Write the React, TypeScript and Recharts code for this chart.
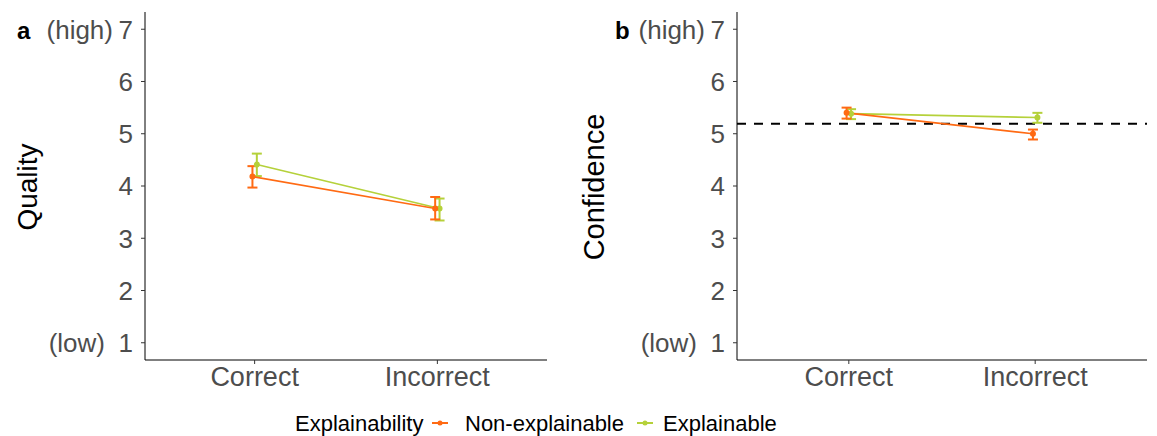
import React from "react";
import {
  LineChart,
  Line,
  XAxis,
  YAxis,
  ErrorBar,
  ReferenceLine,
} from "recharts";

const conditions = ["Correct", "Incorrect"];

// panel a: Quality
const qualityNonExpl = [4.18, 3.57];
const qualityNonExplLow = [3.97, 3.36];
const qualityNonExplHigh = [4.38, 3.79];
const qualityExpl = [4.41, 3.57];
const qualityExplLow = [4.19, 3.34];
const qualityExplHigh = [4.62, 3.76];

// panel b: Confidence
const confNonExpl = [5.4, 5.0];
const confNonExplLow = [5.29, 4.89];
const confNonExplHigh = [5.5, 5.08];
const confExpl = [5.385, 5.31];
const confExplLow = [5.28, 5.21];
const confExplHigh = [5.47, 5.4];
const confidenceBaseline = 5.19;

const yTicks = [1, 2, 3, 4, 5, 6, 7];
const yTickNotes: Record<number, string> = { 1: "(low)", 7: "(high)" };

const colors = {
  nonExpl: "#ff6a13",
  expl: "#b5d13a",
  text: "#4d4d4d",
};

const font = "'Liberation Sans', Arial, sans-serif";
const tickFont = 27;
const yTickFont = 26;
const dodge = 0.012;

const makeRows = (vals: number[], lows: number[], highs: number[], shift: number) =>
  conditions.map((c, i) => ({
    x: i + 1 + shift,
    y: vals[i],
    err: [vals[i] - lows[i], highs[i] - vals[i]],
  }));

const YTick = (props: any) => {
  const { x, y, payload } = props;
  const note = yTickNotes[payload.value];
  const gap = note === "(low)" ? 28 : 20;
  return (
    <g>
      <text x={x} y={y} dy="0.36em" textAnchor="end" fill={colors.text} fontSize={yTickFont} fontFamily={font}>
        {payload.value}
      </text>
      {note && (
        <text x={x - gap} y={y} dy="0.36em" textAnchor="end" fill={colors.text} fontSize={yTickFont} fontFamily={font}>
          {note}
        </text>
      )}
    </g>
  );
};

const Panel: React.FC<{
  width: number;
  rightMargin: number;
  nonExpl: any[];
  expl: any[];
  baseline?: number;
}> = ({ width, rightMargin, nonExpl, expl, baseline }) => (
  <LineChart width={width} height={400} margin={{ top: 12, right: rightMargin, left: 0, bottom: 0 }}>
    <XAxis
      type="number"
      dataKey="x"
      domain={[0.4, 2.6]}
      ticks={[1, 2]}
      allowDataOverflow
      tickFormatter={(v) => conditions[Math.round(v) - 1]}
      height={40}
      tickSize={4}
      tickMargin={3}
      stroke="#000"
      tickLine={{ stroke: "#333" }}
      tick={{ fill: colors.text, fontSize: tickFont, fontFamily: font }}
    />
    <YAxis
      type="number"
      dataKey="y"
      domain={[0.67, 7.33]}
      ticks={yTicks}
      allowDataOverflow
      width={145}
      tickSize={4}
      tickMargin={8}
      stroke="#000"
      tickLine={{ stroke: "#333" }}
      tick={<YTick />}
    />
    {baseline !== undefined && (
      <ReferenceLine y={baseline} stroke="#000" strokeWidth={2} strokeDasharray="9 8" />
    )}
    <Line
      data={expl}
      dataKey="y"
      stroke={colors.expl}
      strokeWidth={1.6}
      dot={{ r: 2.2, fill: colors.expl, stroke: colors.expl }}
      isAnimationActive={false}
    >
      <ErrorBar dataKey="err" direction="y" width={5} stroke={colors.expl} strokeWidth={2} />
    </Line>
    <Line
      data={nonExpl}
      dataKey="y"
      stroke={colors.nonExpl}
      strokeWidth={1.6}
      dot={{ r: 2.2, fill: colors.nonExpl, stroke: colors.nonExpl }}
      isAnimationActive={false}
    >
      <ErrorBar dataKey="err" direction="y" width={5} stroke={colors.nonExpl} strokeWidth={2} />
    </Line>
  </LineChart>
);

export default function App() {
  const qNon = makeRows(qualityNonExpl, qualityNonExplLow, qualityNonExplHigh, -dodge);
  const qExp = makeRows(qualityExpl, qualityExplLow, qualityExplHigh, dodge);
  const cNon = makeRows(confNonExpl, confNonExplLow, confNonExplHigh, -dodge);
  const cExp = makeRows(confExpl, confExplLow, confExplHigh, dodge);

  return (
    <div style={{ position: "absolute", left: 0, top: 0, width: 1157, height: 436, background: "#fff", fontFamily: font }}>
      <div style={{ position: "absolute", left: 0, top: 0 }}>
        <Panel width={560} rightMargin={13} nonExpl={qNon} expl={qExp} />
      </div>
      <div style={{ position: "absolute", left: 592, top: 0 }}>
        <Panel width={565} rightMargin={10} nonExpl={cNon} expl={cExp} baseline={confidenceBaseline} />
      </div>
      <svg width={1157} height={436} style={{ position: "absolute", left: 0, top: 0, pointerEvents: "none" }}>
        <text x={17} y={39} fontSize={24} fontWeight="bold" fontFamily={font} fill="#000">a</text>
        <text x={615} y={39} fontSize={24} fontWeight="bold" fontFamily={font} fill="#000">b</text>
        <text
          x={27}
          y={187}
          fontSize={28}
          fontFamily={font}
          fill="#000"
          textAnchor="middle"
          dominantBaseline="central"
          transform="rotate(-90 27 187)"
        >
          Quality
        </text>
        <text
          x={594}
          y={187}
          fontSize={29}
          fontFamily={font}
          fill="#000"
          textAnchor="middle"
          dominantBaseline="central"
          transform="rotate(-90 594 187)"
        >
          Confidence
        </text>
        <g fontFamily={font} fontSize={22} fill="#000">
          <text x={295} y={431}>Explainability</text>
          <line x1={432} x2={448} y1={423} y2={423} stroke={colors.nonExpl} strokeWidth={2} />
          <circle cx={440} cy={423} r={2.5} fill={colors.nonExpl} />
          <text x={465} y={431}>Non-explainable</text>
          <line x1={637} x2={653} y1={423} y2={423} stroke={colors.expl} strokeWidth={2} />
          <circle cx={645} cy={423} r={2.5} fill={colors.expl} />
          <text x={663} y={431}>Explainable</text>
        </g>
      </svg>
    </div>
  );
}
